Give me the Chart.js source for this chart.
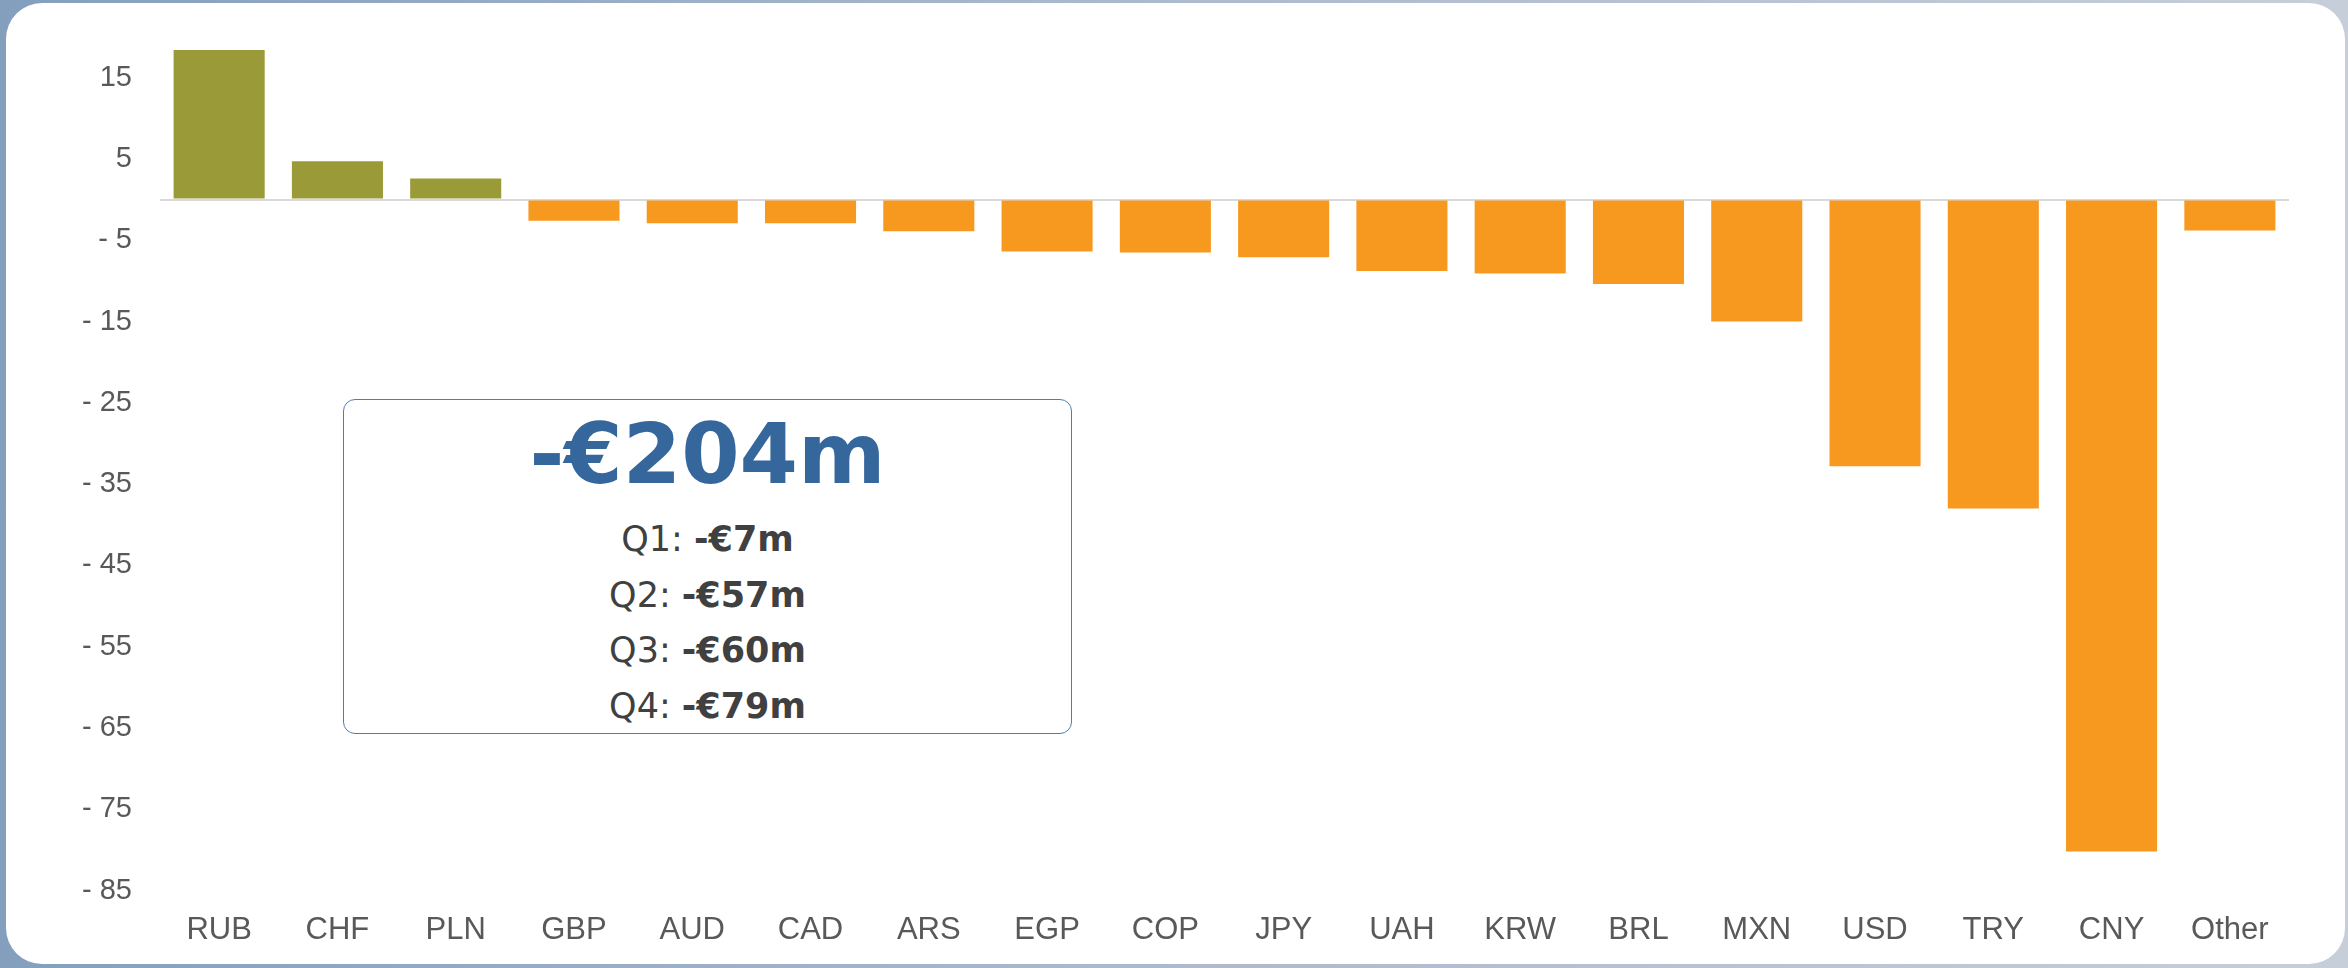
<!DOCTYPE html>
<html>
<head>
<meta charset="utf-8">
<script src="https://cdn.jsdelivr.net/npm/chart.js@4.4.1/dist/chart.umd.min.js"></script>
<style>
  html, body { margin: 0; padding: 0; }
  body {
    width: 2348px; height: 968px; overflow: hidden; position: relative;
    background: linear-gradient(to right, #849fbe 0%, #a9b8cb 45%, #c6ced9 100%);
  }
  #panel {
    position: absolute; left: 6px; top: 3px; width: 2339px; height: 961px;
    background: #ffffff; border-radius: 36px;
  }
  #fxChart { position: absolute; left: 0; top: 0; }
  #summaryBox {
    position: absolute; left: 343px; top: 399px; width: 729px; height: 335px;
    box-sizing: border-box;
    border: 1.5px solid #4d7db3; border-radius: 12px; background: #ffffff;
    text-align: center; font-family: "DejaVu Sans", sans-serif;
  }
  #summaryBox .total {
    font-size: 84px; font-weight: bold; color: #35679c; line-height: 109px;
  }
  #summaryBox .quarters { margin-top: 3px; }
  #summaryBox .q { font-size: 35px; line-height: 55.5px; color: #404040; font-weight: normal; }
  #summaryBox .q b { font-weight: bold; }
</style>
</head>
<body>
<div id="panel"></div>
<canvas id="fxChart" width="2348" height="968"></canvas>
<div id="summaryBox"></div>
<script>
// Datos del grafico (valores en millones de euros)
const currencies = ['RUB', 'CHF', 'PLN', 'GBP', 'AUD', 'CAD', 'ARS', 'EGP', 'COP', 'JPY',
  'UAH', 'KRW', 'BRL', 'MXN', 'USD', 'TRY', 'CNY', 'Other'];
const impactValues = [18.4, 4.7, 2.6, -2.6, -2.9, -2.9, -3.9, -6.4, -6.5, -7.1,
  -8.8, -9.1, -10.4, -15.0, -32.8, -38.0, -80.2, -3.8];
const yTickValues = [15, 5, -5, -15, -25, -35, -45, -55, -65, -75, -85];

// Resumen del recuadro
const totalImpact = '-€204m';
const quarterLabels = ['Q1', 'Q2', 'Q3', 'Q4'];
const quarterImpacts = ['-€7m', '-€57m', '-€60m', '-€79m'];

document.addEventListener('DOMContentLoaded', function () {
  // 1. Recuadro con el total y los trimestres
  const box = document.getElementById('summaryBox');
  let html = '<div class="total">' + totalImpact + '</div><div class="quarters">';
  quarterLabels.forEach((q, i) => {
    html += '<div class="q">' + q + ': <b>' + quarterImpacts[i] + '</b></div>';
  });
  html += '</div>';
  box.innerHTML = html;

  // 2. Colores: verde para positivos, naranja para negativos
  const barColors = impactValues.map(v => v >= 0 ? '#9a9b38' : '#f8991f');

  const ctx = document.getElementById('fxChart');
  new Chart(ctx, {
    type: 'bar',
    data: {
      labels: currencies,
      datasets: [{
        data: impactValues,
        backgroundColor: barColors,
        borderWidth: 0,
        categoryPercentage: 1,
        barPercentage: 0.77
      }]
    },
    options: {
      responsive: false,
      animation: false,
      devicePixelRatio: 1,
      layout: { padding: { top: 37, right: 59, bottom: 14, left: 0 } },
      plugins: {
        legend: { display: false },
        tooltip: { enabled: false }
      },
      scales: {
        x: {
          grid: { display: false, drawTicks: false },
          border: { display: false },
          ticks: {
            color: '#595959',
            font: { family: '"Liberation Sans", Arial, sans-serif', size: 31 },
            padding: 5,
            maxRotation: 0,
            autoSkip: false
          }
        },
        y: {
          min: -87,
          max: 20,
          // ticks fijos como en el original, mas el cero para la linea base
          afterBuildTicks: function (scale) {
            scale.ticks = yTickValues.concat([0]).sort((a, b) => a - b).map(v => ({ value: v }));
          },
          afterFit: function (scale) {
            scale.width = 160;
            scale.paddingTop = 0;
            scale.paddingBottom = 0;
          },
          border: { display: false },
          grid: {
            drawTicks: false,
            lineWidth: 2,
            color: c => (c.tick && c.tick.value === 0) ? '#d9d9d9' : 'rgba(0,0,0,0)'
          },
          ticks: {
            autoSkip: false,
            color: '#595959',
            padding: 28,
            font: { family: '"Liberation Sans", Arial, sans-serif', size: 29 },
            callback: function (value) {
              if (value === 0) return '';
              return value < 0 ? '- ' + Math.abs(value) : String(value);
            }
          }
        }
      }
    }
  });
});
</script>
</body>
</html>
